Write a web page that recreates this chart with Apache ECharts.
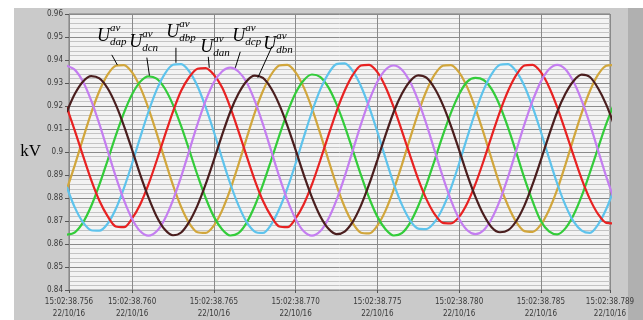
<!DOCTYPE html>
<html><head><meta charset="utf-8">
<script src="https://cdn.jsdelivr.net/npm/echarts@6/dist/echarts.min.js"></script>
<style>html,body{margin:0;padding:0;background:#fff}#c{width:643px;height:320px}</style>
</head><body><div id="c"></div>
<script>
// sample times, ms after 15:02:38 (22/10/16)
const timeMs = [756.0,756.5,757.0,757.5,758.0,758.5,759.0,759.5,760.0,760.5,761.0,761.5,762.0,762.5,763.0,763.5,764.0,764.5,765.0,765.5,
766.0,766.5,767.0,767.5,768.0,768.5,769.0,769.5,770.0,770.5,771.0,771.5,772.0,772.5,773.0,773.5,774.0,774.5,775.0,775.5,
776.0,776.5,777.0,777.5,778.0,778.5,779.0,779.5,780.0,780.5,781.0,781.5,782.0,782.5,783.0,783.5,784.0,784.5,785.0,785.5,
786.0,786.5,787.0,787.5,788.0,788.5,789.0,789.5];
// kV values
const uDap = [0.8836,0.8944,0.9059,0.9170,0.9265,0.9336,0.9375,0.9378,0.9346,0.9281,0.9190,0.9082,0.8967,0.8856,0.8761,0.8690,0.8651,0.8648,0.8680,0.8745,
0.8836,0.8944,0.9059,0.9170,0.9265,0.9336,0.9376,0.9379,0.9346,0.9281,0.9190,0.9082,0.8967,0.8856,0.8761,0.8690,0.8649,0.8646,0.8680,0.8745,
0.8836,0.8944,0.9059,0.9170,0.9265,0.9336,0.9375,0.9378,0.9346,0.9281,0.9190,0.9082,0.8967,0.8856,0.8765,0.8695,0.8656,0.8653,0.8684,0.8748,
0.8836,0.8944,0.9059,0.9170,0.9265,0.9336,0.9375,0.9378];
const uDcn = [0.8641,0.8651,0.8694,0.8765,0.8858,0.8963,0.9071,0.9170,0.9251,0.9306,0.9329,0.9319,0.9276,0.9205,0.9112,0.9007,0.8899,0.8800,0.8719,0.8664,
0.8637,0.8647,0.8692,0.8765,0.8858,0.8963,0.9071,0.9172,0.9256,0.9312,0.9337,0.9327,0.9282,0.9208,0.9114,0.9007,0.8899,0.8800,0.8719,0.8664,
0.8637,0.8647,0.8692,0.8765,0.8858,0.8963,0.9071,0.9170,0.9251,0.9306,0.9322,0.9313,0.9272,0.9200,0.9105,0.8997,0.8885,0.8785,0.8700,0.8655,
0.8642,0.8668,0.8726,0.8809,0.8910,0.9017,0.9122,0.9213];
const uDbp = [0.8848,0.8758,0.8694,0.8660,0.8658,0.8688,0.8752,0.8843,0.8950,0.9065,0.9175,0.9270,0.9340,0.9379,0.9382,0.9350,0.9286,0.9195,0.9088,0.8973,
0.8863,0.8769,0.8696,0.8654,0.8648,0.8684,0.8752,0.8843,0.8950,0.9065,0.9175,0.9270,0.9340,0.9382,0.9385,0.9352,0.9286,0.9195,0.9088,0.8973,
0.8863,0.8771,0.8703,0.8667,0.8665,0.8695,0.8756,0.8843,0.8950,0.9065,0.9175,0.9270,0.9340,0.9379,0.9382,0.9350,0.9286,0.9195,0.9088,0.8973,
0.8863,0.8769,0.8698,0.8658,0.8648,0.8684,0.8752,0.8843];
const uDan = [0.9195,0.9092,0.8983,0.8878,0.8788,0.8721,0.8676,0.8673,0.8711,0.8773,0.8859,0.8962,0.9071,0.9176,0.9266,0.9326,0.9362,0.9365,0.9336,0.9281,
0.9195,0.9092,0.8983,0.8878,0.8788,0.8721,0.8676,0.8673,0.8711,0.8773,0.8859,0.8962,0.9071,0.9176,0.9266,0.9335,0.9376,0.9379,0.9347,0.9283,
0.9195,0.9092,0.8985,0.8882,0.8795,0.8730,0.8692,0.8690,0.8718,0.8777,0.8861,0.8962,0.9071,0.9176,0.9266,0.9335,0.9376,0.9379,0.9347,0.9283,
0.9195,0.9092,0.8985,0.8882,0.8795,0.8730,0.8692,0.8690];
const uDcp = [0.9375,0.9357,0.9305,0.9223,0.9121,0.9007,0.8893,0.8791,0.8709,0.8655,0.8636,0.8655,0.8709,0.8791,0.8893,0.9007,0.9121,0.9223,0.9303,0.9350,
0.9367,0.9350,0.9303,0.9223,0.9121,0.9007,0.8893,0.8791,0.8709,0.8655,0.8636,0.8655,0.8709,0.8791,0.8893,0.9007,0.9121,0.9223,0.9305,0.9358,
0.9376,0.9358,0.9305,0.9223,0.9121,0.9007,0.8893,0.8791,0.8710,0.8660,0.8643,0.8660,0.8711,0.8791,0.8893,0.9007,0.9121,0.9223,0.9306,0.9360,
0.9379,0.9360,0.9305,0.9223,0.9121,0.9007,0.8893,0.8791];
const uDbn = [0.9174,0.9253,0.9307,0.9330,0.9320,0.9277,0.9206,0.9114,0.9009,0.8901,0.8803,0.8720,0.8663,0.8638,0.8650,0.8697,0.8768,0.8860,0.8965,0.9073,
0.9174,0.9253,0.9308,0.9332,0.9322,0.9277,0.9206,0.9114,0.9009,0.8901,0.8803,0.8722,0.8667,0.8643,0.8654,0.8697,0.8768,0.8860,0.8965,0.9073,
0.9174,0.9253,0.9308,0.9333,0.9323,0.9277,0.9206,0.9114,0.9009,0.8901,0.8805,0.8727,0.8672,0.8651,0.8660,0.8700,0.8768,0.8860,0.8965,0.9073,
0.9174,0.9253,0.9309,0.9336,0.9326,0.9277,0.9206,0.9114];

const seriesNames = ['dap','dcn','dbp','dan','dcp','dbn'];
const seriesValues = [uDap, uDcn, uDbp, uDan, uDcp, uDbn];
const seriesColors = ['#d1a63c','#33cc3a','#5ec3ec','#e82222','#c47ef0','#4a1e1e'];

// axis range and tick-label text
const xMin = 756.14, xMax = 789.23;
const yMin = 0.84, yMax = 0.96;
const timePrefix = '15:02:38.';
const dateText = '22/10/16';

// annotation pointer ends (data coords on the curves)
const annT = [759.10, 761.06, 762.68, 764.72, 766.31, 767.69];
const annV = [0.9378, 0.9332, 0.9388, 0.9366, 0.9366, 0.9323];

const chart = echarts.init(document.getElementById('c'));

const series = seriesNames.map((n, i) => ({
  name: n, type: 'line', xAxisIndex: 0, yAxisIndex: 0,
  data: timeMs.map((t, k) => [t, seriesValues[i][k]]),
  showSymbol: false, smooth: 0.3, clip: true,
  lineStyle: {color: seriesColors[i], width: 2.2},
  itemStyle: {color: seriesColors[i]}
}));

chart.setOption({
  animation: false,
  backgroundColor: '#ffffff',
  grid: {left: 69, top: 14, width: 541, height: 277, show: true,
         backgroundColor: '#f3f3f3', borderColor: '#7c7c7c', borderWidth: 1},
  xAxis: [{
    type: 'value', min: xMin, max: xMax, splitNumber: 6, minInterval: 5, maxInterval: 5,
    axisLine: {show: false},
    axisTick: {show: true, length: 3, lineStyle: {color: '#555'}},
    axisLabel: {showMinLabel: true, showMaxLabel: true, fontSize: 8, lineHeight: 12, margin: 6,
      color: '#3a3a3a', fontFamily: 'Liberation Sans Narrow, DejaVu Sans Condensed, Liberation Sans',
      formatter: v => timePrefix + Math.round(v) + '\n' + dateText},
    splitLine: {show: true, lineStyle: {color: '#8a8a8a', width: 1}}
  }, {
    type: 'value', min: xMin, max: xMax, splitNumber: 66, minInterval: 0.5, maxInterval: 0.5,
    position: 'bottom', z: -1,
    axisLine: {show: false}, axisTick: {show: false}, axisLabel: {show: false},
    splitLine: {show: true, lineStyle: {color: '#c4c4c4', width: 1}}
  }],
  yAxis: {
    type: 'value', min: yMin, max: yMax, interval: 0.01,
    name: 'kV', nameLocation: 'middle', nameRotate: 0, nameGap: 26,
    nameTextStyle: {fontFamily: 'Liberation Serif', fontSize: 17, color: '#000'},
    axisLine: {show: false},
    axisTick: {show: true, length: 4, lineStyle: {color: '#555'}},
    axisLabel: {fontSize: 8, margin: 6, color: '#3a3a3a',
      fontFamily: 'Liberation Sans Narrow, DejaVu Sans Condensed, Liberation Sans'},
    splitLine: {show: true, lineStyle: {color: '#8a8a8a', width: 1}},
    minorTick: {show: false, splitNumber: 5},
    minorSplitLine: {show: true, lineStyle: {color: '#c4c4c4', width: 1}}
  },
  graphic: [
    {type: 'rect', z: -100, silent: true, shape: {x: 14, y: 8, width: 614, height: 312}, style: {fill: '#cacaca'}},
    {type: 'rect', z: -99, silent: true, shape: {x: 628, y: 8, width: 15, height: 312}, style: {fill: '#b0b0b0'}}
  ],
  series: series
});

// annotation layout (pixel offsets, style only)
const lineOff = [[-5.6,-10.2],[-2.6,-18],[0,-15],[-1,-11],[5,-16],[14.2,-31.3]];
const textOff = [[-20.3,-23.2],[-20.3,-28],[-9.7,-25],[-9,-15],[-3,-26],[5.5,-28]];
const ann = [];
seriesNames.forEach((n, i) => {
  const p = chart.convertToPixel({xAxisIndex: 0, yAxisIndex: 0}, [annT[i], annV[i]]);
  const bx = p[0] + textOff[i][0], by = p[1] + textOff[i][1];
  ann.push({type: 'line', z: 100, silent: true,
    shape: {x1: p[0] + lineOff[i][0], y1: p[1] + lineOff[i][1], x2: p[0], y2: p[1]},
    style: {stroke: '#000', lineWidth: 1}});
  ann.push({type: 'text', z: 100, silent: true, style: {x: bx, y: by - 5.4, text: 'U',
    font: 'italic 18px "Liberation Serif"', fill: '#000', textAlign: 'left', textVerticalAlign: 'middle'}});
  ann.push({type: 'text', z: 100, silent: true, style: {x: bx + 13, y: by - 10 - 3.3, text: 'av',
    font: 'italic 11px "Liberation Serif"', fill: '#000', textAlign: 'left', textVerticalAlign: 'middle'}});
  ann.push({type: 'text', z: 100, silent: true, style: {x: bx + 13, y: by + 4 - 3.3, text: n,
    font: 'italic 11px "Liberation Serif"', fill: '#000', textAlign: 'left', textVerticalAlign: 'middle'}});
});
chart.setOption({graphic: ann.length ? [
  {type: 'rect', z: -100, silent: true, shape: {x: 14, y: 8, width: 614, height: 312}, style: {fill: '#cacaca'}},
  {type: 'rect', z: -99, silent: true, shape: {x: 628, y: 8, width: 15, height: 312}, style: {fill: '#b0b0b0'}}
].concat(ann) : []}, {replaceMerge: ['graphic']});
</script></body></html>
